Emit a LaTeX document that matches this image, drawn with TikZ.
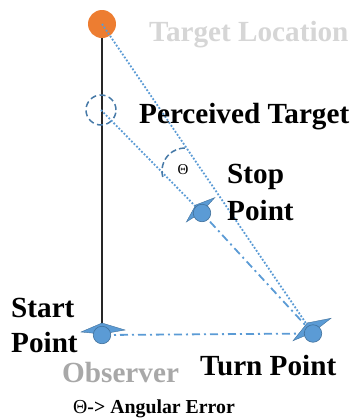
\documentclass[tikz,border=0pt]{standalone}
\usepackage{fontspec}
\setmainfont{Liberation Serif}
\usetikzlibrary{calc}
\definecolor{ptblue}{HTML}{5B9BD5}
\definecolor{ptedge}{HTML}{41719C}
\definecolor{ptorange}{HTML}{ED7D31}
\definecolor{lightgraytext}{HTML}{D6D6D6}
\definecolor{graytext}{HTML}{A8A8A8}
\begin{document}
\begin{tikzpicture}[x=1bp,y=-1bp,
  lbl/.style={font=\fontsize{29.2bp}{30bp}\selectfont\bfseries, anchor=base west, inner sep=0},
  dotline/.style={ptblue, line width=1.8bp, dash pattern=on 1.8bp off 1.8bp},
  dashdotline/.style={ptblue, line width=1.8bp, dash pattern=on 8bp off 4bp on 2bp off 4bp},
  ptdot/.style={circle, fill=ptblue, draw=ptedge, line width=0.6bp, minimum size=17.5bp, inner sep=0},
  wing/.style={fill=ptblue, draw=ptedge, line width=0.4bp},
  wings/.pic={\path[wing] (-21,-3) -- (0,-12) -- (23,-5) -- (0,-1) -- cycle;},
  thetaarc/.style={ptedge!80!ptblue, line width=1.5bp, dash pattern=on 6bp off 3bp},
  perccircle/.style={circle, draw=ptedge!80!ptblue, line width=1.5bp, dash pattern=on 6bp off 3.5bp, minimum size=30bp, inner sep=0},
  tgtcircle/.style={circle, fill=ptorange, minimum size=28bp, inner sep=0}
]
\useasboundingbox (0,0) rectangle (354,420);
% positions
\coordinate (tgt) at (102,24);
\coordinate (perc) at (101,110);
\coordinate (start) at (102,335);
\coordinate (turn) at (313,333.5);
\coordinate (stop) at (202,213);
\coordinate (thc) at (185,171);
% vertical line
\draw[black!85, line width=1.1bp] (tgt) -- (start);
\node[tgtcircle] (tgtdot) at (tgt) {};
\node[perccircle] (percdot) at (perc) {};
% paths
\draw[dotline] (tgt) -- (turn);
\draw[dotline] (perc) -- (stop);
\draw[dashdotline] (start) -- (turn);
\draw[dashdotline] (turn) -- (stop);
\draw[thetaarc] (thc) ++(165:23) arc[start angle=165, end angle=272, radius=23];
% markers
\pic at (start) {wings};
\pic[rotate=28] at (turn) {wings};
\pic[rotate=38, scale=0.85] at (stop) {wings};
\node[ptdot] (startdot) at (start) {};
\node[ptdot] (turndot) at (turn) {};
\node[ptdot] (stopdot) at (stop) {};
% labels
\node[inner sep=0, font=\fontsize{15bp}{15bp}\selectfont] (theta) at (183,170) {Θ};
\node[lbl, text=lightgraytext] (tl) at (149,41) {Target Location};
\node[lbl] (pt) at (139,123) {Perceived Target};
\node[lbl] (sp1) at (227,183) {Stop};
\node[lbl] (sp2) at (227,220) {Point};
\node[lbl] (st1) at (11,317) {Start};
\node[lbl] (st2) at (11,352) {Point};
\node[lbl, text=graytext] (obs) at (62,382) {Observer};
\node[lbl] (tp) at (200,375) {Turn Point};
\node[anchor=base west, inner sep=0, font=\fontsize{19.8bp}{20bp}\selectfont] (legend) at (73,413) {Θ\textbf{-> Angular Error}};
\end{tikzpicture}
\end{document}
